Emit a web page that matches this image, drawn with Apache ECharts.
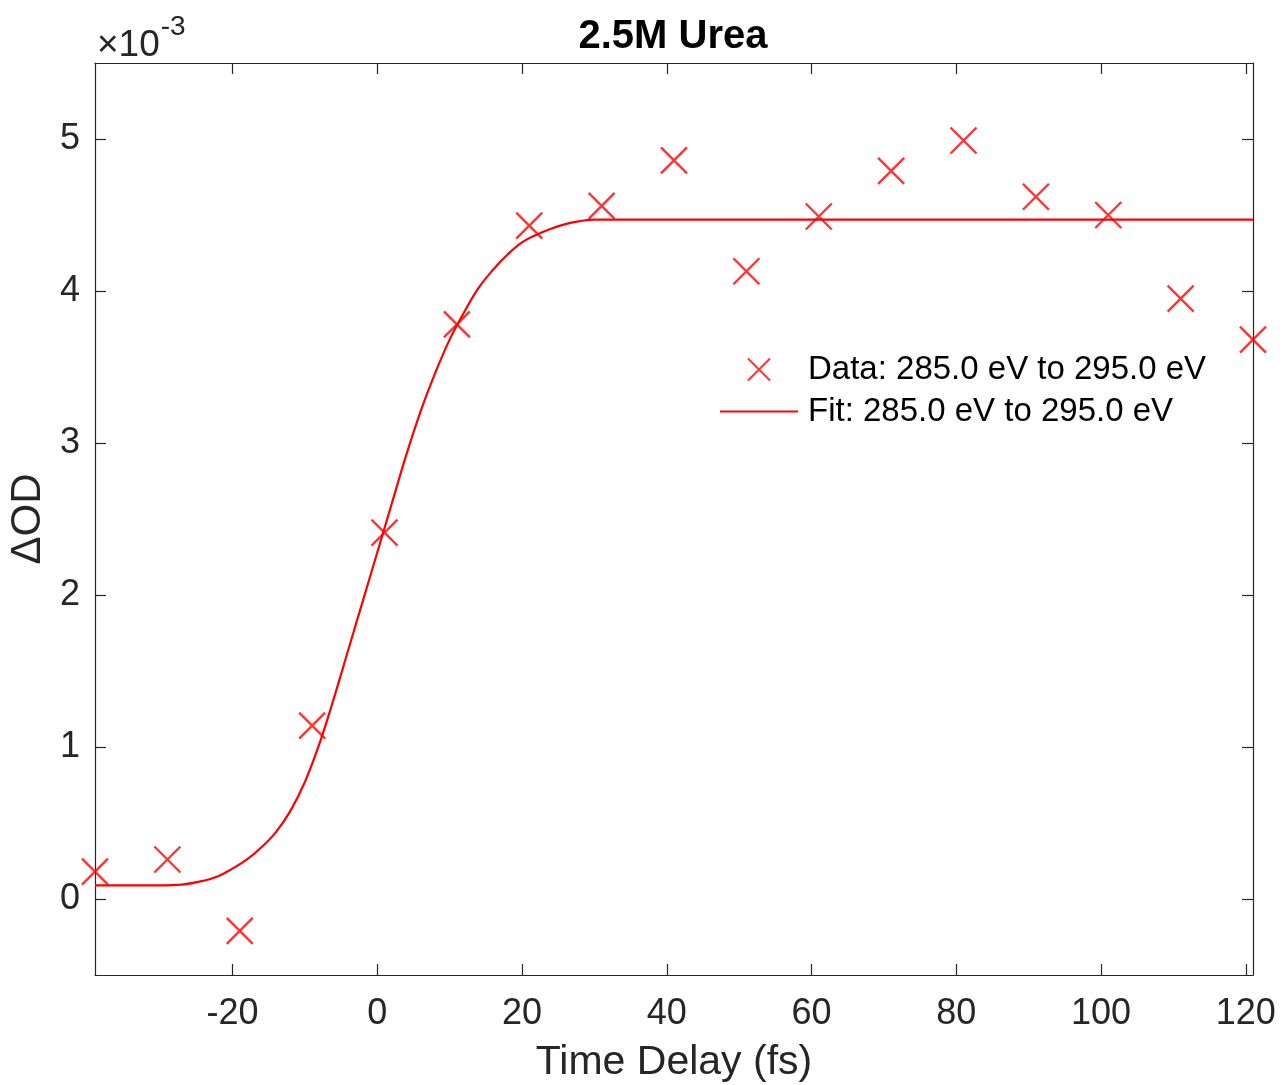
<!DOCTYPE html>
<html>
<head>
<meta charset="utf-8">
<script src="https://cdn.jsdelivr.net/npm/echarts@6/dist/echarts.min.js"></script>
<style>
html,body{margin:0;padding:0;background:#fff;}
#chart{width:1282px;height:1085px;}
</style>
</head>
<body>
<div id="chart"></div>
<script>
// Data (ΔOD in units of 1e-3)
const timeDelay = [-39,-29,-19,-9,1,11,21,31,41,51,61,71,81,91,101,111,121];
const deltaOD = [0.18,0.26,-0.21,1.14,2.41,3.78,4.43,4.56,4.86,4.13,4.49,4.79,4.99,4.62,4.50,3.95,3.68];

// Fit curve
const fitTime = [-39,-33,-30,-27,-24,-22,-20,-18,-16,-14,-12,-10,-8,-6,-4,-2,0,2,4,6,8,10,12,14,16,18,20,22,24,26,28,30,35,40,60,80,100,121];
const fitOD = [0.09,0.09,0.09,0.095,0.12,0.15,0.20,0.26,0.34,0.44,0.58,0.77,1.02,1.32,1.64,1.96,2.28,2.60,2.92,3.21,3.46,3.68,3.86,4.02,4.14,4.24,4.32,4.37,4.41,4.44,4.46,4.47,4.47,4.47,4.47,4.47,4.47,4.47];

const xTicks = [-20,0,20,40,60,80,100,120];
const yTicks = [0,1,2,3,4,5];

const xRange = [-39, 121];
const yRange = [-0.5, 5.5];

const dataName = 'Data: 285.0 eV to 295.0 eV';
const fitName = 'Fit: 285.0 eV to 295.0 eV';

const FONT = "'Liberation Sans', Arial, Helvetica, sans-serif";
const AX = '#262626';
const RED = '#ff0000';

const chart = echarts.init(document.getElementById('chart'), null, {renderer: 'canvas'});

const baseAxisLine = {show: true, onZero: false, lineStyle: {color: AX, width: 1.2}};
const tickStyle = {inside: true, length: 11, lineStyle: {color: AX, width: 1.2}};

chart.setOption({
  backgroundColor: '#fff',
  animation: false,
  title: {
    text: '2.5M Urea',
    left: 668, top: 12, textAlign: 'center',
    textStyle: {fontFamily: FONT, fontSize: 40, fontWeight: 'bold', color: '#000'}
  },
  grid: {left: 95, right: 29, top: 63, bottom: 110, containLabel: false, outerBoundsMode: 'none'},
  legend: {
    orient: 'vertical',
    left: 719, top: 353, padding: 0,
    itemWidth: 78, itemHeight: 22, itemGap: 9,
    textStyle: {fontFamily: FONT, fontSize: 33, lineHeight: 33, color: '#000', padding: [0,0,0,5]},
    data: [
      {name: dataName},
      {name: fitName, itemStyle: {opacity: 0}}
    ]
  },
  graphic: [{
    type: 'text', left: 97, top: 13,
    style: {
      text: '{a|×10}{b|-3}',
      rich: {
        a: {fontFamily: FONT, fontSize: 37, fill: AX, verticalAlign: 'bottom', padding: [14,1,0,0]},
        b: {fontFamily: FONT, fontSize: 28, fill: AX, verticalAlign: 'top', padding: [0,0,20,0]}
      }
    }
  }],
  xAxis: [{
    type: 'value', min: xRange[0], max: xRange[1], position: 'bottom',
    name: 'Time Delay (fs)', nameLocation: 'middle', nameGap: 67,
    nameTextStyle: {fontFamily: FONT, fontSize: 41, color: AX},
    axisLine: baseAxisLine,
    axisTick: Object.assign({customValues: xTicks}, tickStyle),
    axisLabel: {customValues: xTicks, margin: 21, fontFamily: FONT, fontSize: 36, color: AX},
    splitLine: {show: false}
  }, {
    type: 'value', min: xRange[0], max: xRange[1], position: 'top',
    axisLine: baseAxisLine,
    axisTick: Object.assign({customValues: xTicks}, tickStyle),
    axisLabel: {show: false},
    splitLine: {show: false}
  }],
  yAxis: [{
    type: 'value', min: yRange[0], max: yRange[1], position: 'left',
    name: 'ΔOD', nameLocation: 'middle', nameGap: 46, nameRotate: 90,
    nameTextStyle: {fontFamily: FONT, fontSize: 42, color: AX},
    axisLine: baseAxisLine,
    axisTick: Object.assign({customValues: yTicks}, tickStyle),
    axisLabel: {customValues: yTicks, margin: 15, fontFamily: FONT, fontSize: 36, color: AX},
    splitLine: {show: false}
  }, {
    type: 'value', min: yRange[0], max: yRange[1], position: 'right',
    axisLine: baseAxisLine,
    axisTick: Object.assign({customValues: yTicks}, tickStyle),
    axisLabel: {show: false},
    splitLine: {show: false}
  }],
  series: [{
    name: dataName,
    type: 'scatter',
    clip: false,
    symbol: 'path://M0,0L10,10M10,0L0,10',
    symbolSize: 26,
    itemStyle: {color: 'none', borderColor: RED, borderWidth: 2.4},
    data: timeDelay.map((t, i) => [t, deltaOD[i]]),
    z: 3
  }, {
    name: fitName,
    type: 'line',
    smooth: 0.4,
    symbol: 'none',
    lineStyle: {color: RED, width: 2.2},
    itemStyle: {color: RED},
    data: fitTime.map((t, i) => [t, fitOD[i]]),
    z: 2
  }]
});
</script>
</body>
</html>
